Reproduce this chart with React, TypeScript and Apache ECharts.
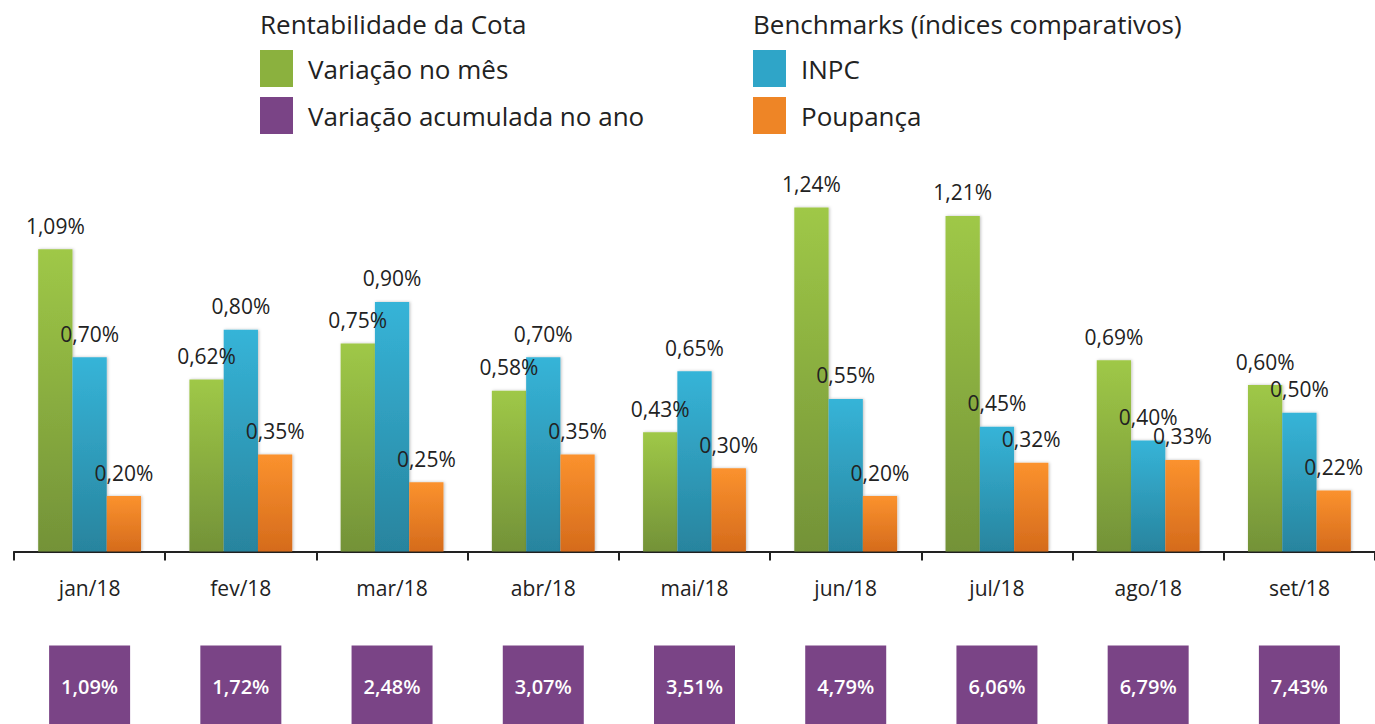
import React, { useEffect, useRef } from "react";
import * as echarts from "echarts";

const months = ["jan/18", "fev/18", "mar/18", "abr/18", "mai/18", "jun/18", "jul/18", "ago/18", "set/18"];
const variacaoMes = [1.09, 0.62, 0.75, 0.58, 0.43, 1.24, 1.21, 0.69, 0.6];
const inpc = [0.7, 0.8, 0.9, 0.7, 0.65, 0.55, 0.45, 0.4, 0.5];
const poupanca = [0.2, 0.35, 0.25, 0.35, 0.3, 0.2, 0.32, 0.33, 0.22];
const acumulado = [1.09, 1.72, 2.48, 3.07, 3.51, 4.79, 6.06, 6.79, 7.43];

const FONT = "Open Sans";
const fmt = (v: number) => v.toFixed(2).replace(".", ",") + "%";

const grad = (top: string, bottom: string) =>
  new echarts.graphic.LinearGradient(0, 0, 0, 1, [
    { offset: 0, color: top },
    { offset: 1, color: bottom },
  ]);

export default function App() {
  const ref = useRef<HTMLDivElement>(null);
  useEffect(() => {
    if (!ref.current) return;
    const chart = echarts.init(ref.current, null, { renderer: "svg" });
    const valueLabel = {
      show: true,
      position: "top" as const,
      distance: 13,
      fontFamily: FONT,
      fontSize: 21,
      color: "#222",
      formatter: (p: any) => fmt(p.value),
    };
    const barBase = (name: string, data: number[], top: string, bottom: string) => ({
      name,
      type: "bar",
      xAxisIndex: 0,
      yAxisIndex: 0,
      data,
      barGap: "0%",
      barCategoryGap: "32%",
      itemStyle: {
        color: grad(top, bottom),
        shadowColor: "rgba(0,0,0,0.25)",
        shadowBlur: 3,
        shadowOffsetX: 1,
      },
      label: valueLabel,
    });
    const legendText = { fontFamily: FONT, fontSize: 26, color: "#222", padding: [0, 0, 0, 10] };
    chart.setOption({
      animation: false,
      backgroundColor: "#ffffff",
      graphic: [
        {
          type: "text",
          left: 260,
          top: 11,
          style: { text: "Rentabilidade da Cota", fontFamily: FONT, fontSize: 26, fill: "#222" },
        },
        {
          type: "text",
          left: 753,
          top: 11,
          style: { text: "Benchmarks (índices comparativos)", fontFamily: FONT, fontSize: 26, fill: "#222" },
        },
      ],
      legend: [
        {
          orient: "vertical",
          left: 260,
          top: 50,
          padding: 0,
          itemWidth: 33,
          itemHeight: 37,
          itemGap: 10,
          icon: "rect",
          textStyle: legendText,
          data: [
            { name: "Variação no mês", itemStyle: { color: "#8bb13e" } },
            { name: "Variação acumulada no ano", itemStyle: { color: "#7a4486" } },
          ],
        },
        {
          orient: "vertical",
          left: 753,
          top: 50,
          padding: 0,
          itemWidth: 33,
          itemHeight: 37,
          itemGap: 10,
          icon: "rect",
          textStyle: legendText,
          data: [
            { name: "INPC", itemStyle: { color: "#2fa5c8" } },
            { name: "Poupança", itemStyle: { color: "#ee8526" } },
          ],
        },
      ],
      grid: [
        { left: 14, top: 135.5, width: 1368, height: 416 },
        { left: 14, top: 647, width: 1368, height: 80 },
      ],
      xAxis: [
        {
          type: "category",
          gridIndex: 0,
          data: months,
          axisLine: { show: true, lineStyle: { color: "#222", width: 2 } },
          axisTick: { show: true, alignWithLabel: false, length: 9, lineStyle: { color: "#222", width: 2 } },
          axisLabel: { fontFamily: FONT, fontSize: 21, color: "#222", margin: 26 },
        },
        {
          type: "category",
          gridIndex: 1,
          data: months,
          show: false,
        },
      ],
      yAxis: [
        { type: "value", gridIndex: 0, min: 0, max: 1.5, show: false, splitLine: { show: false } },
        { type: "category", gridIndex: 1, data: ["acc"], show: false },
      ],
      series: [
        barBase("Variação no mês", variacaoMes, "#9fc847", "#739238"),
        barBase("INPC", inpc, "#36b4d8", "#28849e"),
        barBase("Poupança", poupanca, "#fb922e", "#d56b1c"),
        {
          name: "Variação acumulada no ano",
          type: "scatter",
          xAxisIndex: 1,
          yAxisIndex: 1,
          symbol: "rect",
          symbolSize: [81, 80],
          itemStyle: { color: "#7a4486", opacity: 1 },
          data: acumulado.map((v, i) => [months[i], "acc", v]),
          label: {
            show: true,
            position: "inside",
            offset: [0, 1],
            fontFamily: FONT,
            fontSize: 20,
            fontWeight: 600,
            color: "#ffffff",
            formatter: (p: any) => fmt(p.value[2]),
          },
        },
      ],
    });
    return () => chart.dispose();
  }, []);
  return (
    <div
      ref={ref}
      style={{ position: "absolute", left: 0, top: 0, width: 1375, height: 724 }}
    />
  );
}
